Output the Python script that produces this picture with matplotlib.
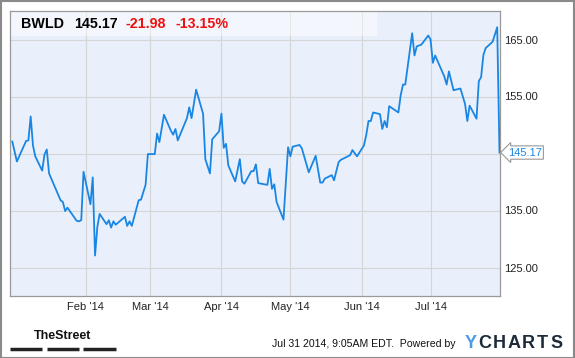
import pandas as pd
import matplotlib
matplotlib.use("Agg")
import matplotlib.pyplot as plt
import matplotlib.dates as mdates
from matplotlib.patches import Rectangle
from matplotlib.lines import Line2D

plt.rcParams['font.family'] = ['Liberation Sans', 'DejaVu Sans']

# BWLD daily closes, Dec 31 2013 - Jul 31 2014
ticker = "BWLD"
dates = ["2013-12-31", "2014-01-02", "2014-01-06", "2014-01-07", "2014-01-08",
         "2014-01-09", "2014-01-10", "2014-01-13", "2014-01-14", "2014-01-15",
         "2014-01-16", "2014-01-21", "2014-01-22", "2014-01-23", "2014-01-24",
         "2014-01-28", "2014-01-29", "2014-01-30", "2014-01-31", "2014-02-03",
         "2014-02-04", "2014-02-05", "2014-02-06", "2014-02-07", "2014-02-10",
         "2014-02-11", "2014-02-12", "2014-02-13", "2014-02-14", "2014-02-18",
         "2014-02-19", "2014-02-20", "2014-02-21", "2014-02-24", "2014-02-25",
         "2014-02-27", "2014-02-28", "2014-03-03", "2014-03-04", "2014-03-05",
         "2014-03-07", "2014-03-10", "2014-03-11", "2014-03-12", "2014-03-13",
         "2014-03-17", "2014-03-18", "2014-03-19", "2014-03-21", "2014-03-24",
         "2014-03-25", "2014-03-27", "2014-03-28", "2014-03-31", "2014-04-01",
         "2014-04-02", "2014-04-03", "2014-04-04", "2014-04-07", "2014-04-09",
         "2014-04-10", "2014-04-11", "2014-04-14", "2014-04-15", "2014-04-16",
         "2014-04-17", "2014-04-21", "2014-04-22", "2014-04-23", "2014-04-24",
         "2014-04-25", "2014-04-28", "2014-04-30", "2014-05-01", "2014-05-02",
         "2014-05-05", "2014-05-06", "2014-05-09", "2014-05-12", "2014-05-14",
         "2014-05-15", "2014-05-16", "2014-05-19", "2014-05-20", "2014-05-22",
         "2014-05-23", "2014-05-27", "2014-05-28", "2014-05-30", "2014-06-02",
         "2014-06-03", "2014-06-04", "2014-06-05", "2014-06-06", "2014-06-09",
         "2014-06-10", "2014-06-11", "2014-06-12", "2014-06-13", "2014-06-17",
         "2014-06-18", "2014-06-19", "2014-06-20", "2014-06-23", "2014-06-24",
         "2014-06-25", "2014-06-27", "2014-06-30", "2014-07-01", "2014-07-02",
         "2014-07-03", "2014-07-07", "2014-07-08", "2014-07-09", "2014-07-11",
         "2014-07-14", "2014-07-16", "2014-07-17", "2014-07-18", "2014-07-21",
         "2014-07-22", "2014-07-23", "2014-07-24", "2014-07-25", "2014-07-28",
         "2014-07-30", "2014-07-31"]
prices = [147.1, 143.6, 147.2, 147.3, 151.5,
          146.4, 144.5, 142.0, 144.8, 145.7,
          141.5, 136.8, 136.5, 134.9, 135.5,
          133.2, 133.1, 133.3, 141.8, 136.1,
          140.8, 127.1, 132.1, 134.4, 132.6,
          133.3, 132.0, 133.1, 132.5, 133.9,
          132.3, 133.1, 132.3, 136.8, 136.9,
          139.5, 144.9, 144.9, 148.5, 147.0,
          151.8, 149.0, 148.3, 149.3, 147.3,
          151.2, 153.1, 151.2, 156.2, 152.0,
          144.0, 141.5, 147.5, 148.9, 152.0,
          146.0, 146.7, 142.9, 140.1, 144.0,
          140.1, 139.7, 141.9, 141.9, 143.1,
          139.8, 139.5, 142.3, 138.8, 139.6,
          136.5, 133.4, 146.1, 144.5, 146.2,
          146.5, 145.9, 141.7, 144.6, 139.9,
          139.9, 140.6, 141.2, 140.3, 143.5,
          143.9, 144.7, 145.6, 144.5, 146.4,
          148.2, 150.7, 150.7, 152.2, 151.9,
          149.3, 150.7, 149.6, 153.3, 152.2,
          155.2, 157.1, 157.1, 166.1, 162.2,
          163.8, 164.1, 165.7, 165.0, 160.9,
          162.2, 158.5, 157.1, 159.4, 156.1,
          156.4, 153.7, 150.7, 153.4, 151.1,
          157.7, 158.4, 162.3, 163.5, 164.6,
          167.15, 145.17]
y_ticks = [125, 135, 145, 155, 165]
month_ticks = ["2014-02-01", "2014-03-01", "2014-04-01", "2014-05-01", "2014-06-01", "2014-07-01"]
footer = "Jul 31 2014, 9:05AM EDT.  Powered by"

x = pd.to_datetime(dates)
last = prices[-1]
change = prices[-1] - prices[-2]
pct = change / prices[-2] * 100

W, H = 575, 358
fig = plt.figure(figsize=(W / 100, H / 100), dpi=100)
fig.patch.set_facecolor('white')

# plot area in pixels: x 10..499.5, y 11..296
left, right, top, bottom = 10, 499.5, 11, 296
ax = fig.add_axes([left / W, 1 - bottom / H, (right - left) / W, (bottom - top) / H])
ax.set_facecolor('#eaf0fb')

ax.plot(x, prices, color='#1a86e3', lw=1.3, zorder=3)

ax.set_xlim(pd.Timestamp("2013-12-30"), pd.Timestamp("2014-07-31"))
ax.set_ylim(120, 170)

ax.set_xticks(pd.to_datetime(month_ticks))
ax.xaxis.set_major_formatter(mdates.DateFormatter("%b '%y"))
ax.set_yticks(y_ticks)
ax.set_yticklabels(['' if v == 145 else f"{v:.2f}" for v in y_ticks])
ax.yaxis.tick_right()
ax.tick_params(axis='both', length=0, labelsize=8, labelcolor='#222222')
ax.tick_params(axis='y', pad=3)
ax.tick_params(axis='x', pad=4.5)
ax.grid(True, color='#d5d5d5', lw=0.8, zorder=0)
ax.set_axisbelow(True)
for s in ax.spines.values():
    s.set_color('#999999')
    s.set_linewidth(0.9)

# lighter header band behind the quote text
ax.add_patch(Rectangle((0, 1 - 25 / (bottom - top)), (377 - left) / (right - left), 25 / (bottom - top),
                       transform=ax.transAxes, facecolor='white', alpha=0.45, lw=0, zorder=1))

# last value flag
ax.annotate(f"{last:.2f}", xy=(1, last), xycoords=('axes fraction', 'data'),
            xytext=(6, 0), textcoords='offset points', ha='left', va='center',
            fontsize=8, color='#1a86e3', annotation_clip=False,
            bbox=dict(boxstyle='larrow,pad=0.15', fc='white', ec='#999999', lw=0.8))

# quote header
ty = 1 - 24 / H
fig.text(21 / W, ty, ticker, fontsize=10.3, weight='bold', color='black', va='center')
fig.text(74 / W, ty, f"{last:.2f}", fontsize=10.3, weight='bold', color='black', va='center')
fig.text(125 / W, ty, f"{change:.2f}", fontsize=10.3, weight='bold', color='#ee1111', va='center')
fig.text(175 / W, ty, f"{pct:.2f}%", fontsize=10.3, weight='bold', color='#ee1111', va='center')

# footer
fig.text(63 / W, 1 - 336 / H, "TheStreet", fontsize=9, weight='bold', color='#111111',
         ha='center', va='center')
for x0, x1 in [(10, 42), (47, 79), (83, 116)]:
    fig.add_artist(Line2D([x0 / W, x1 / W], [1 - 349 / H] * 2, color='#222222', lw=2.5,
                          solid_capstyle='butt'))
fig.text(455 / W, 1 - 344 / H, footer, fontsize=7.6, color='#111111', ha='right', va='center')
fig.text(470.5 / W, 1 - 343 / H, "Y", fontsize=13, weight='bold', color='#4a9be8',
         ha='center', va='center')
for i, ch in enumerate("CHARTS"):
    fig.text((485 + i * 14.3) / W, 1 - 343 / H, ch, fontsize=13, weight='bold', color='#1c2a3a',
             ha='center', va='center')

# outer frame
fig.add_artist(Rectangle((0.5 / W, 0.5 / H), 1 - 1.5 / W, 1 - 1.5 / H, transform=fig.transFigure,
                         fill=False, ec='#8a8a8a', lw=1.5))

fig.savefig("out.png", dpi=100)
